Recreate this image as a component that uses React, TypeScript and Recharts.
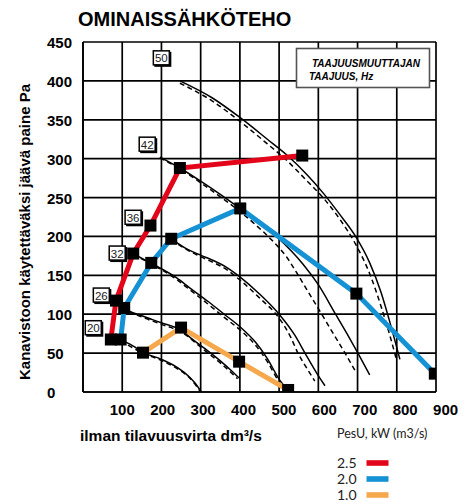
import React from "react"
import { ComposedChart, Line, Scatter, XAxis, YAxis, CartesianGrid } from "recharts"

// axis ticks
const flowTicks = [0, 100, 200, 300, 400, 500, 600, 700, 800, 900]
const paTicks = [0, 50, 100, 150, 200, 250, 300, 350, 400, 450]

// frequency tags (Hz) placed on the chart
const hzTags = [50, 42, 36, 32, 26, 20]
const hzTagFlow = [201, 165, 129, 88.5, 48, 27.5]
const hzTagPa = [429, 318, 224, 178, 124, 82]

// PesU series: flow dm3/s, pressure Pa
const pesu25Flow = [71, 84, 128, 172, 247, 559]
const pesu25Pa = [67.5, 117.5, 178, 214, 288, 304]
const pesu20Flow = [96, 105, 174, 225, 401, 697, 897]
const pesu20Pa = [67.5, 108, 166, 197, 236, 126.5, 23.6]
const pesu10Flow = [153, 250, 398, 523]
const pesu10Pa = [50.6, 82.8, 39, 2.6]

// fan curves per frequency [flow, Pa], solid + dashed
const fan20: number[][] = [[96, 67], [125, 60], [153, 51], [200, 42], [242, 31], [270, 20], [285, 12], [302, 0]]
const fan20Dash: number[][] = [[96, 66], [153, 50], [200, 40.5], [242, 29.5], [270, 19], [285, 10.5], [298, 1]]
const fan26: number[][] = [[84, 118], [105, 108], [150, 98], [200, 89], [251, 79], [276, 69], [310, 56], [350, 40], [375, 29], [398, 18]]
const fan26Dash: number[][] = [[84, 117], [105, 107], [150, 96.5], [200, 87], [251, 77], [310, 53.5], [350, 37.5], [394, 17]]
const fan32: number[][] = [[128, 178], [172, 166], [238, 147], [272, 134], [320, 116], [360, 100], [400, 84], [440, 64], [470, 43], [502, 15], [520, 4]]
const fan32Dash: number[][] = [[128, 177], [172, 165], [238, 145], [272, 131.5], [320, 112.5], [360, 96], [400, 80], [440, 60], [470, 39], [500, 13], [512, 5]]
const fan36: number[][] = [[225, 197], [272, 182], [300, 176], [370, 159], [400, 148], [450, 126], [500, 100], [540, 73], [566, 50], [595, 25], [617, 8]]
const fan36Dash: number[][] = [[225, 196], [272, 181], [300, 174], [370, 156], [400, 144], [450, 121], [500, 95], [530, 70], [548, 50], [570, 31], [591, 14]]
const fan42: number[][] = [[196, 302], [247, 288], [300, 271], [350, 254], [400, 236], [450, 218], [493, 200], [530, 182], [560, 165], [600, 138], [644, 100], [673, 75], [702, 49], [731, 22]]
const fan42Dash: number[][] = [[196, 301], [247, 287], [300, 269], [350, 251], [400, 232], [440, 215], [480, 196], [520, 173], [544, 154], [575, 128], [605, 103], [637, 76], [667, 51], [693, 28]]
const fan50: number[][] = [[247, 400], [330, 378], [400, 353], [470, 325], [519, 305], [570, 280], [612, 256], [655, 228], [695, 200], [731, 166], [760, 128], [785, 85], [808, 42]]
const fan50Dash: number[][] = [[247, 397], [330, 374], [400, 348], [470, 319], [519, 298], [570, 272], [612, 250], [655, 222], [695, 190], [731, 152], [760, 110], [785, 68], [800, 40]]

const pts = (arr: number[][]) => arr.map(([q, p]) => ({ q, p }))
const zipPts = (qs: number[], ps: number[]) => qs.map((q, i) => ({ q, p: ps[i] }))

const fanCurves = [
  { id: "f20", data: fan20, dash: false }, { id: "f20d", data: fan20Dash, dash: true },
  { id: "f26", data: fan26, dash: false }, { id: "f26d", data: fan26Dash, dash: true },
  { id: "f32", data: fan32, dash: false }, { id: "f32d", data: fan32Dash, dash: true },
  { id: "f36", data: fan36, dash: false }, { id: "f36d", data: fan36Dash, dash: true },
  { id: "f42", data: fan42, dash: false }, { id: "f42d", data: fan42Dash, dash: true },
  { id: "f50", data: fan50, dash: false }, { id: "f50d", data: fan50Dash, dash: true },
]

const RED = "#e3061b"
const BLUE = "#1592d4"
const ORANGE = "#f5a84c"
const FONT = "'Liberation Sans', Arial, sans-serif"

function SquareDot(props: any) {
  const { cx, cy, index } = props
  if (cx == null || cy == null) return <g key={`e${index}`} />
  return <rect key={`sq${index}`} x={cx - 6} y={cy - 6} width={12} height={12} fill="#000" />
}

function HzTag(props: any) {
  const { cx, cy, payload } = props
  return (
    <g>
      <rect x={cx - 7.5} y={cy - 6.5} width={17} height={15} fill="#000" />
      <rect x={cx - 8.5} y={cy - 7.5} width={16} height={14} fill="#fff" stroke="#000" strokeWidth={1.5} />
      <text x={cx - 0.5} y={cy + 4} textAnchor="middle" fontSize={11.5} fontFamily={FONT} fill="#222">
        {payload.hz}
      </text>
    </g>
  )
}

function FlowTick(props: any) {
  const { x, payload } = props
  if (payload.value === 0) return null
  const shift = (payload.value - 100) * 0.012
  return (
    <text x={x + shift} y={415} textAnchor="middle" fontSize={15} fontWeight="bold" fontFamily={FONT} fill="#000">
      {payload.value}
    </text>
  )
}

function PaTick(props: any) {
  const { y, payload } = props
  return (
    <text x={47} y={y + 6} textAnchor="start" fontSize={15} fontWeight="bold" fontFamily={FONT} fill="#000">
      {payload.value}
    </text>
  )
}

export default function App() {
  const hzData = hzTags.map((hz, i) => ({ q: hzTagFlow[i], p: hzTagPa[i], hz }))

  return (
    <div style={{ position: "absolute", left: 0, top: 0, width: 471, height: 502, background: "#fff" }}>
      <ComposedChart width={471} height={502} margin={{ top: 42, right: 35, bottom: 0, left: 0 }}>
        <CartesianGrid stroke="#000" strokeWidth={1.7} />
        <XAxis
          type="number"
          dataKey="q"
          domain={[0, 900]}
          ticks={flowTicks}
          allowDataOverflow
          height={110}
          axisLine={{ stroke: "#000", strokeWidth: 1.7 }}
          tickLine={false}
          tick={<FlowTick />}
          label={{
            content: () => (
              <text x={80} y={441} fontSize={15.5} fontWeight="bold" fontFamily={FONT} fill="#000">
                ilman tilavuusvirta dm³/s
              </text>
            ),
          }}
        />
        <YAxis
          type="number"
          dataKey="p"
          domain={[0, 450]}
          ticks={paTicks}
          allowDataOverflow
          width={83}
          axisLine={{ stroke: "#000", strokeWidth: 1.7 }}
          tickLine={false}
          tick={<PaTick />}
          label={{
            content: () => (
              <text
                x={30}
                y={232}
                transform="rotate(-90 30 232)"
                textAnchor="middle"
                fontSize={15}
                fontWeight="bold"
                fontFamily={FONT}
                fill="#000"
              >
                Kanavistoon käytettäväksi jäävä paine Pa
              </text>
            ),
          }}
        />

        {fanCurves.map((c) => (
          <Line
            key={c.id}
            name={c.id}
            data={pts(c.data)}
            dataKey="p"
            type="monotone"
            stroke="#000"
            strokeWidth={1.5}
            strokeDasharray={c.dash ? "5 3.5" : undefined}
            dot={false}
            isAnimationActive={false}
          />
        ))}

        <Line name="1.0" data={zipPts(pesu10Flow, pesu10Pa)} dataKey="p" type="linear" stroke={ORANGE}
              strokeWidth={5} dot={SquareDot} isAnimationActive={false} />
        <Line name="2.0" data={zipPts(pesu20Flow, pesu20Pa)} dataKey="p" type="linear" stroke={BLUE}
              strokeWidth={5} dot={SquareDot} isAnimationActive={false} />
        <Line name="2.5" data={zipPts(pesu25Flow, pesu25Pa)} dataKey="p" type="linear" stroke={RED}
              strokeWidth={5} dot={SquareDot} isAnimationActive={false} />

        <Scatter name="Hz" data={hzData} shape={HzTag} isAnimationActive={false} />
      </ComposedChart>

      <svg width={471} height={502} style={{ position: "absolute", left: 0, top: 0, pointerEvents: "none" }}>
        <text x={78} y={26} fontSize={20} fontWeight="bold" fontFamily={FONT} fill="#000">
          OMINAISSÄHKÖTEHO
        </text>
        <rect x={296.5} y={48.5} width={133} height={39} fill="#fff" stroke="#555" strokeWidth={1.6} />
        <text x={312} y={66.5} fontSize={10} fontWeight="bold" fontStyle="italic" fontFamily={FONT} fill="#000">
          TAAJUUSMUUTTAJAN
        </text>
        <text x={309} y={80} fontSize={10} fontWeight="bold" fontStyle="italic" fontFamily={FONT} fill="#000">
          TAAJUUS, Hz
        </text>

        <text x={337} y={438} fontSize={12.5} fontFamily="Lato, sans-serif" fill="#222">
          PesU, kW (m3/s)
        </text>
        {[
          { label: "2.5", color: RED, y: 463 },
          { label: "2.0", color: BLUE, y: 479 },
          { label: "1.0", color: ORANGE, y: 495 },
        ].map((e) => (
          <g key={e.label}>
            <text x={337} y={e.y + 5} fontSize={14} fontFamily="Lato, sans-serif" fill="#222">
              {e.label}
            </text>
            <rect x={366.5} y={e.y - 2.8} width={22} height={5.6} fill={e.color} />
          </g>
        ))}
      </svg>
    </div>
  )
}
